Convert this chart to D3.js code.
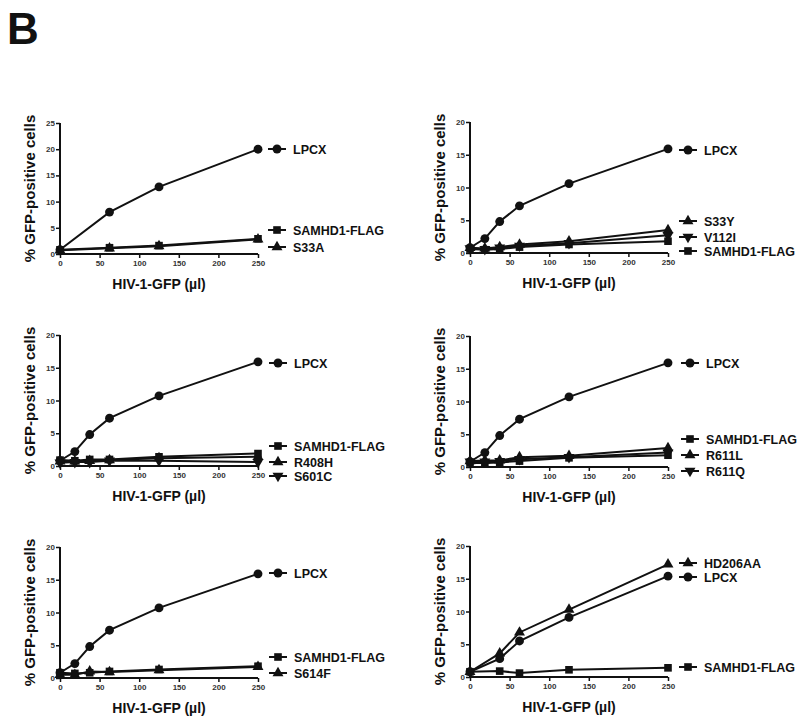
<!DOCTYPE html>
<html><head><meta charset="utf-8">
<script src="https://cdn.jsdelivr.net/npm/d3@7"></script>
<style>body{margin:0;background:#fff}svg{display:block}</style>
</head><body>
<script>
// ---------- DATA ----------
const xTicks = [0, 50, 100, 150, 200, 250];
const dose4 = [0, 62.5, 125, 250];
const dose6 = [0, 18.75, 37.5, 62.5, 125, 250];
const dose5 = [0, 37.5, 62.5, 125, 250];

// Panel 1
const p1LPCX = [0.8, 8.0, 12.8, 20.0];
const p1SAMHD1 = [0.8, 1.2, 1.6, 2.9];
const p1S33A = [0.7, 1.1, 1.5, 2.8];
// Panel 2
const p2LPCX = [0.8, 2.2, 4.8, 7.2, 10.6, 15.9];
const p2S33Y = [0.8, 0.7, 0.9, 1.3, 1.8, 3.5];
const p2V112I = [0.7, 0.6, 0.8, 1.1, 1.5, 2.7];
const p2SAMHD1 = [0.6, 0.5, 0.6, 0.9, 1.3, 1.8];
// Panel 3
const p3LPCX = [0.8, 2.2, 4.8, 7.3, 10.7, 15.9];
const p3SAMHD1 = [0.9, 0.8, 1.0, 1.0, 1.4, 1.9];
const p3R408H = [0.7, 0.7, 0.8, 0.9, 1.2, 1.4];
const p3S601C = [0.5, 0.6, 0.6, 0.8, 0.8, 0.6];
// Panel 4
const p4LPCX = [0.8, 2.2, 4.8, 7.3, 10.7, 15.9];
const p4SAMHD1 = [0.6, 0.6, 0.7, 0.9, 1.4, 1.8];
const p4R611L = [0.9, 1.0, 1.0, 1.5, 1.7, 2.9];
const p4R611Q = [0.8, 0.8, 0.9, 1.2, 1.5, 2.2];
// Panel 5
const p5LPCX = [0.8, 2.2, 4.8, 7.3, 10.7, 15.9];
const p5SAMHD1 = [0.8, 0.7, 0.8, 1.0, 1.3, 1.8];
const p5S614F = [0.5, 0.5, 1.0, 0.9, 1.2, 1.7];
// Panel 6
const p6HD206AA = [0.8, 3.6, 6.8, 10.3, 17.2];
const p6LPCX = [0.8, 2.8, 5.5, 9.1, 15.4];
const p6SAMHD1 = [0.8, 0.9, 0.6, 1.1, 1.4];

const yTicks25 = [0, 5, 10, 15, 20, 25];
const yTicks20 = [0, 5, 10, 15, 20];

const xTitle = "HIV-1-GFP (µl)";
const yTitle = "% GFP-positive cells";

// ---------- LAYOUT ----------
const W = 800, H = 722;
const plotW = 198, plotH = 131;
const ink = "#111";
const font = "Liberation Sans, Arial, sans-serif";

const panels = [
  {x0: 60, y0: 123, yMax: 25, yTicks: yTicks25, lx: 277, series: [
    {name: "LPCX", shape: "circle", x: dose4, y: p1LPCX, ly: 149},
    {name: "SAMHD1-FLAG", shape: "square", x: dose4, y: p1SAMHD1, ly: 230},
    {name: "S33A", shape: "triUp", x: dose4, y: p1S33A, ly: 247}]},
  {x0: 470, y0: 122, yMax: 20, yTicks: yTicks20, lx: 688, series: [
    {name: "LPCX", shape: "circle", x: dose6, y: p2LPCX, ly: 150},
    {name: "S33Y", shape: "triUp", x: dose6, y: p2S33Y, ly: 221},
    {name: "V112I", shape: "triDown", x: dose6, y: p2V112I, ly: 237},
    {name: "SAMHD1-FLAG", shape: "square", x: dose6, y: p2SAMHD1, ly: 251}]},
  {x0: 60, y0: 335, yMax: 20, yTicks: yTicks20, lx: 278, series: [
    {name: "LPCX", shape: "circle", x: dose6, y: p3LPCX, ly: 363},
    {name: "SAMHD1-FLAG", shape: "square", x: dose6, y: p3SAMHD1, ly: 446},
    {name: "R408H", shape: "triUp", x: dose6, y: p3R408H, ly: 462},
    {name: "S601C", shape: "triDown", x: dose6, y: p3S601C, ly: 476}]},
  {x0: 470, y0: 336, yMax: 20, yTicks: yTicks20, lx: 690, series: [
    {name: "LPCX", shape: "circle", x: dose6, y: p4LPCX, ly: 363},
    {name: "SAMHD1-FLAG", shape: "square", x: dose6, y: p4SAMHD1, ly: 439},
    {name: "R611L", shape: "triUp", x: dose6, y: p4R611L, ly: 455},
    {name: "R611Q", shape: "triDown", x: dose6, y: p4R611Q, ly: 471}]},
  {x0: 60, y0: 547, yMax: 20, yTicks: yTicks20, lx: 278, series: [
    {name: "LPCX", shape: "circle", x: dose6, y: p5LPCX, ly: 573},
    {name: "SAMHD1-FLAG", shape: "square", x: dose6, y: p5SAMHD1, ly: 657},
    {name: "S614F", shape: "triUp", x: dose6, y: p5S614F, ly: 673}]},
  {x0: 470, y0: 546, yMax: 20, yTicks: yTicks20, lx: 688, series: [
    {name: "HD206AA", shape: "triUp", x: dose5, y: p6HD206AA, ly: 563},
    {name: "LPCX", shape: "circle", x: dose5, y: p6LPCX, ly: 577},
    {name: "SAMHD1-FLAG", shape: "square", x: dose5, y: p6SAMHD1, ly: 667}]}
];

const svg = d3.select("body").append("svg").attr("width", W).attr("height", H);

svg.append("text").attr("x", 7).attr("y", 44)
  .attr("font-family", font)
  .attr("font-weight", "bold").attr("font-size", 44).attr("fill", ink).text("B");

const symGen = {
  circle: d3.symbol().type(d3.symbolCircle).size(62)(),
  square: d3.symbol().type(d3.symbolSquare).size(58)(),
  triUp: d3.symbol().type(d3.symbolTriangle).size(52)(),
  triDown: d3.symbol().type(d3.symbolTriangle).size(52)()
};
function drawSym(g, shape, cx, cy) {
  g.append("path").attr("d", symGen[shape])
    .attr("transform", `translate(${cx},${cy})` + (shape === "triDown" ? " rotate(180)" : ""))
    .attr("fill", ink);
}

panels.forEach(p => {
  const x = d3.scaleLinear().domain([0, 250]).range([p.x0, p.x0 + plotW]);
  const y = d3.scaleLinear().domain([0, p.yMax]).range([p.y0 + plotH, p.y0]);
  const g = svg.append("g");

  // axes
  const xa = g.append("g").attr("transform", `translate(0,${p.y0 + plotH})`)
    .call(d3.axisBottom(x).tickValues(xTicks).tickSize(4).tickPadding(2));
  const ya = g.append("g").attr("transform", `translate(${p.x0},0)`)
    .call(d3.axisLeft(y).tickValues(p.yTicks).tickSize(4).tickPadding(1));
  [xa, ya].forEach(a => {
    a.select(".domain").attr("stroke", ink).attr("stroke-width", 2);
    a.selectAll(".tick line").attr("stroke", ink).attr("stroke-width", 1.5);
    a.selectAll(".tick text").attr("fill", "#333").attr("font-size", 8)
      .attr("font-family", font).attr("font-weight", "bold");
  });
  xa.select(".domain").attr("d", `M${p.x0},0H${p.x0 + plotW}`);
  ya.select(".domain").attr("d", `M0,${p.y0 + plotH}V${p.y0}`);

  // titles
  g.append("text").attr("x", p.x0 + plotW / 2).attr("y", p.y0 + plotH + 35)
    .attr("text-anchor", "middle").attr("font-family", font)
    .attr("font-weight", "bold").attr("font-size", 14).attr("fill", ink).text(xTitle);
  g.append("text").attr("transform", `translate(${p.x0 - 25},${p.y0 + plotH / 2}) rotate(-90)`)
    .attr("text-anchor", "middle").attr("font-family", font)
    .attr("font-weight", "bold").attr("font-size", 15).attr("fill", ink).text(yTitle);

  const line = d3.line().x(d => x(d[0])).y(d => y(d[1]));
  p.series.forEach(s => {
    const pts = s.x.map((v, i) => [v, s.y[i]]);
    g.append("path").attr("d", line(pts)).attr("fill", "none")
      .attr("stroke", ink).attr("stroke-width", 2);
  });
  p.series.forEach(s => {
    s.x.forEach((v, i) => drawSym(g, s.shape, x(v), y(s.y[i])));
    // legend
    g.append("line").attr("x1", p.lx - 9).attr("x2", p.lx + 9).attr("y1", s.ly).attr("y2", s.ly)
      .attr("stroke", ink).attr("stroke-width", 2);
    drawSym(g, s.shape, p.lx, s.ly);
    g.append("text").attr("x", p.lx + 16).attr("y", s.ly + 4.5)
      .attr("font-family", font).attr("font-weight", "bold")
      .attr("font-size", 12.5).attr("fill", ink).text(s.name);
  });
});
</script>
</body></html>
